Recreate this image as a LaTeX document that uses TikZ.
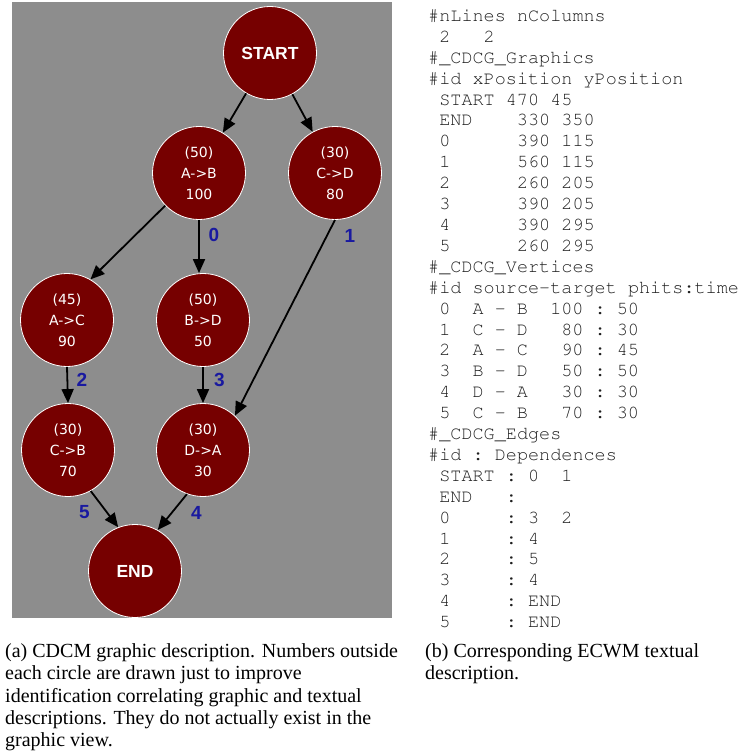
\documentclass[tikz,border=0pt]{standalone}
\usepackage[T1]{fontenc}
\usepackage{fontspec}
\usetikzlibrary{arrows.meta}

\newfontfamily\circfam{DejaVu Sans}
\newfontfamily\labfam{Liberation Sans}
\newfontfamily\capfam{Liberation Serif}

\definecolor{panelgray}{RGB}{141,141,141}
\definecolor{stagered}{RGB}{118,0,0}
\definecolor{numblue}{RGB}{25,25,160}
\definecolor{codeink}{RGB}{30,30,30}

\newcommand\codefont{\fontencoding{T1}\fontfamily{pcr}\fontseries{m}\fontshape{n}\fontsize{18.5}{20.9}\selectfont\frenchspacing}

\tikzset{
  stage/.style={circle, draw=white, line width=0.8pt, fill=stagered,
    minimum size=93pt, inner sep=0pt, text=white, align=center,
    font=\circfam\fontsize{14}{21}\selectfont},
  term/.style={stage, font=\labfam\bfseries\fontsize{17.5}{20}\selectfont},
  arr/.style={line width=1.8pt, -{Triangle[length=14pt,width=12pt]}},
  num/.style={inner sep=0pt, text=numblue, font=\labfam\bfseries\fontsize{19}{20}\selectfont},
  codeline/.style={anchor=base west, inner sep=0pt, text=codeink, font=\codefont},
  capline/.style={anchor=base west, inner sep=0pt, font=\capfam\fontsize{20}{22.4}\selectfont},
}

\begin{document}
\begin{tikzpicture}[x=1pt,y=-1pt]
\useasboundingbox (0,0) rectangle (743,754);

% graph view panel
\fill[panelgray] (12,2) rectangle (392,618);

% communication stages
\node[term]  (st) at (270,53)  {START};
\node[stage] (ab) at (199,173) {(50)\\A->B\\100};
\node[stage] (cd) at (335,173) {(30)\\C->D\\80};
\node[stage] (ac) at (67,320)  {(45)\\A->C\\90};
\node[stage] (bd) at (203,320) {(50)\\B->D\\50};
\node[stage] (cb) at (68,450)  {(30)\\C->B\\70};
\node[stage] (da) at (203,450) {(30)\\D->A\\30};
\node[term]  (en) at (135,571) {END};

% dependences
\draw[arr] (st) -- (ab);
\draw[arr] (st) -- (cd);
\draw[arr] (ab.224) -- (ac.60);
\draw[arr] (ab.south) -- (ab.south |- bd.north);
\draw[arr] (cd.south) -- (da.47);
\draw[arr] (ac.south) -- (cb.north);
\draw[arr] (bd.south) -- (da.north);
\draw[arr] (cb.299) -- (en.111);
\draw[arr] (da.250) -- (en.61);

% vertex identifiers
\node[num] (n0) at (214,235)     {0};
\node[num] (n1) at (350,236)     {1};
\node[num] (n2) at (82,379.5)    {2};
\node[num] (n3) at (219.5,379.5) {3};
\node[num] (n4) at (196.5,512.5) {4};
\node[num] (n5) at (84.5,512.5)  {5};

% textual description
\foreach \t [count=\k from 0] in {
  \#nLines~nColumns,
  ~2~~~2,
  \#\_CDCG\_Graphics,
  \#id~xPosition~yPosition,
  ~START~470~45,
  ~END~~~~330~350,
  ~0~~~~~~390~115,
  ~1~~~~~~560~115,
  ~2~~~~~~260~205,
  ~3~~~~~~390~205,
  ~4~~~~~~390~295,
  ~5~~~~~~260~295,
  \#\_CDCG\_Vertices,
  \#id~source-target~phits:time,
  ~0~~A~\textendash~B~~100~:~50,
  ~1~~C~\textendash~D~~~80~:~30,
  ~2~~A~\textendash~C~~~90~:~45,
  ~3~~B~\textendash~D~~~50~:~50,
  ~4~~D~\textendash~A~~~30~:~30,
  ~5~~C~\textendash~B~~~70~:~30,
  \#\_CDCG\_Edges,
  \#id~:~Dependences,
  ~START~:~0~~1,
  ~END~~~:,
  ~0~~~~~:~3~~2,
  ~1~~~~~:~4,
  ~2~~~~~:~5,
  ~3~~~~~:~4,
  ~4~~~~~:~END,
  ~5~~~~~:~END}
  \node[codeline] (code\k) at (428,21.5+20.9*\k) {\t};

% captions
\foreach \t [count=\k from 0] in {
  (a) CDCM graphic description. Numbers outside,
  each circle are drawn just to improve,
  identification correlating graphic and textual,
  descriptions. They do not actually exist in the,
  graphic view.}
  \node[capline] (capa\k) at (5,657.3+22.4*\k) {\t};
\foreach \t [count=\k from 0] in {
  (b) Corresponding ECWM textual,
  description.}
  \node[capline] (capb\k) at (425,657.3+22.4*\k) {\t};
\end{tikzpicture}
\end{document}
